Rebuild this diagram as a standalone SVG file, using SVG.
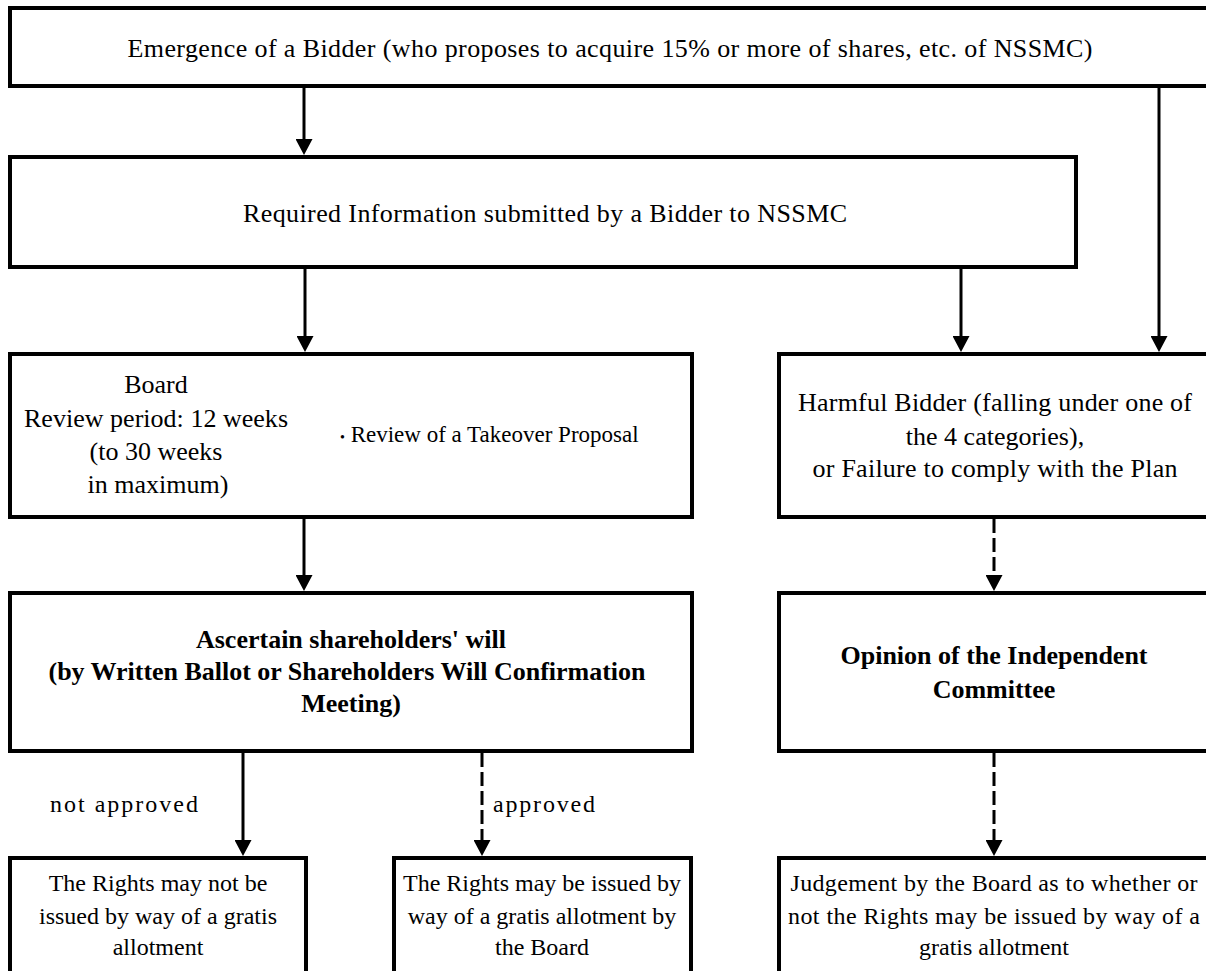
<svg xmlns="http://www.w3.org/2000/svg" width="1206" height="971" viewBox="0 0 1206 971">
<style>
.box{fill:#fff;stroke:#000;stroke-width:4}
.t{font-family:"Liberation Serif","Times New Roman",serif;font-size:26px;fill:#000;text-anchor:middle}
.b{font-weight:bold}
.s{font-size:24px}
.l{font-family:"Liberation Serif","Times New Roman",serif;font-size:24px;fill:#000}
.c{stroke:#000;stroke-width:3;fill:none;marker-end:url(#ah)}
.d{stroke-dasharray:14 5}
</style>
<defs>
<marker id="ah" markerUnits="userSpaceOnUse" markerWidth="16" markerHeight="17" viewBox="0 0 16 17" refX="2" refY="8.5" orient="auto">
<path d="M0,0 L16,8.5 L0,17 z" fill="#000"/>
</marker>
</defs>
<rect width="1206" height="971" fill="#fff"/>

<g id="n-emergence">
<rect class="box" x="10" y="8" width="1210" height="78"/>
<text class="t" x="610" y="57" textLength="965">Emergence of a Bidder (who proposes to acquire 15% or more of shares, etc. of NSSMC)</text>
</g>

<g id="n-required">
<rect class="box" x="10" y="157" width="1066" height="110"/>
<text class="t" x="545" y="222" textLength="604">Required Information submitted by a Bidder to NSSMC</text>
</g>

<g id="n-board">
<rect class="box" x="10" y="354" width="682" height="163"/>
<text class="t" x="156" y="393">Board</text>
<text class="t" x="156" y="427" textLength="264">Review period: 12 weeks</text>
<text class="t" x="156" y="460">(to 30 weeks</text>
<text class="t" x="158" y="493">in maximum)</text>
<text class="t" x="340" y="442" style="text-anchor:start;font-size:23px"><tspan font-size="14">•</tspan> Review of a Takeover Proposal</text>
</g>

<g id="n-harmful">
<rect class="box" x="779" y="354" width="440" height="163"/>
<text class="t" x="995" y="411" textLength="394">Harmful Bidder (falling under one of</text>
<text class="t" x="995" y="445">the 4 categories),</text>
<text class="t" x="995" y="477" textLength="365">or Failure to comply with the Plan</text>
</g>

<g id="n-ascertain">
<rect class="box" x="10" y="593" width="682" height="158"/>
<text class="t b" x="351" y="648">Ascertain shareholders' will</text>
<text class="t b" x="347" y="680" textLength="597">(by Written Ballot or Shareholders Will Confirmation</text>
<text class="t b" x="351" y="712">Meeting)</text>
</g>

<g id="n-opinion">
<rect class="box" x="779" y="593" width="440" height="158"/>
<text class="t b" x="994" y="664">Opinion of the Independent</text>
<text class="t b" x="994" y="698">Committee</text>
</g>

<g id="n-notissued">
<rect class="box" x="10" y="858" width="296" height="150"/>
<text class="t s" x="158" y="891">The Rights may not be</text>
<text class="t s" x="158" y="924">issued by way of a gratis</text>
<text class="t s" x="158" y="955">allotment</text>
</g>

<g id="n-issued">
<rect class="box" x="394" y="858" width="297" height="150"/>
<text class="t s" x="542" y="891">The Rights may be issued by</text>
<text class="t s" x="542" y="924">way of a gratis allotment by</text>
<text class="t s" x="542" y="955">the Board</text>
</g>

<g id="n-judgement">
<rect class="box" x="779" y="858" width="440" height="150"/>
<text class="t s" x="994" y="891" textLength="407">Judgement by the Board as to whether or</text>
<text class="t s" x="994" y="924" textLength="412">not the Rights may be issued by way of a</text>
<text class="t s" x="994" y="955">gratis allotment</text>
</g>

<g id="connectors">
<line class="c" x1="304" y1="88" x2="304" y2="141"/>
<line class="c" x1="305" y1="269" x2="305" y2="338"/>
<line class="c" x1="961" y1="269" x2="961" y2="338"/>
<line class="c" x1="1159" y1="88" x2="1159" y2="338"/>
<line class="c" x1="304" y1="519" x2="304" y2="577"/>
<line class="c d" x1="994" y1="519" x2="994" y2="577"/>
<line class="c" x1="243" y1="753" x2="243" y2="842"/>
<line class="c d" x1="482" y1="753" x2="482" y2="842"/>
<line class="c d" x1="994" y1="753" x2="994" y2="842"/>
<text class="l" x="50" y="812" textLength="148">not approved</text>
<text class="l" x="493" y="812" textLength="102">approved</text>
</g>
</svg>
